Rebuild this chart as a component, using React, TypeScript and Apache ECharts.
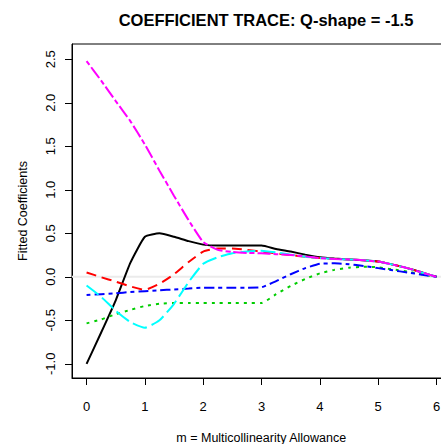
import React, { useEffect, useRef } from "react";
import * as echarts from "echarts";

const mValues = [0, 0.25, 0.5, 0.75, 1, 1.25, 1.5, 1.75, 2, 2.25, 2.5, 2.75, 3, 3.25, 3.5, 3.75, 4, 4.25, 4.5, 4.75, 5, 5.25, 5.5, 5.75, 6];

const coefBlack = [-1.0, -0.64, -0.27, 0.16, 0.46, 0.5, 0.46, 0.41, 0.37, 0.36, 0.36, 0.36, 0.36, 0.32, 0.29, 0.255, 0.225, 0.21, 0.2, 0.19, 0.175, 0.14, 0.1, 0.05, 0.0];
const coefRed = [0.05, -0.005, -0.055, -0.11, -0.15, -0.08, 0.03, 0.17, 0.29, 0.325, 0.325, 0.31, 0.29, 0.27, 0.25, 0.23, 0.215, 0.205, 0.2, 0.19, 0.175, 0.14, 0.1, 0.05, 0.0];
const coefGreen = [-0.535, -0.49, -0.43, -0.38, -0.335, -0.31, -0.3, -0.3, -0.3, -0.3, -0.3, -0.3, -0.3, -0.2, -0.105, -0.025, 0.04, 0.08, 0.105, 0.115, 0.11, 0.085, 0.06, 0.03, 0.0];
const coefBlue = [-0.21, -0.2, -0.19, -0.175, -0.165, -0.155, -0.145, -0.135, -0.125, -0.125, -0.125, -0.125, -0.12, -0.05, 0.03, 0.1, 0.15, 0.155, 0.145, 0.125, 0.1, 0.075, 0.05, 0.025, 0.0];
const coefCyan = [-0.1, -0.23, -0.39, -0.52, -0.585, -0.5, -0.31, -0.06, 0.15, 0.225, 0.27, 0.29, 0.3, 0.28, 0.255, 0.23, 0.215, 0.205, 0.2, 0.19, 0.175, 0.14, 0.1, 0.05, 0.0];
const coefMagenta = [2.48, 2.255, 2.02, 1.79, 1.52, 1.22, 0.93, 0.65, 0.4, 0.31, 0.285, 0.275, 0.27, 0.26, 0.25, 0.235, 0.215, 0.205, 0.2, 0.19, 0.175, 0.14, 0.1, 0.05, 0.0];

const xTicks = [0, 1, 2, 3, 4, 5, 6];
const yTicks = [-1.0, -0.5, 0.0, 0.5, 1.0, 1.5, 2.0, 2.5];

const titleText = "COEFFICIENT TRACE: Q-shape = -1.5";
const xTitle = "m = Multicollinearity Allowance";
const yTitle = "Fitted Coefficients";

const FONT = "Liberation Sans, Arial, Helvetica, sans-serif";

export default function App() {
  const ref = useRef<HTMLDivElement>(null);
  useEffect(() => {
    if (!ref.current) return;
    const chart = echarts.init(ref.current, undefined, { renderer: "svg" });
    const mk = (vals: number[], color: string, dash: any, name: string) => ({
      type: "line",
      name,
      data: mValues.map((m, i) => [m, vals[i]]),
      showSymbol: false,
      symbol: "none",
      smooth: 0.15,
      lineStyle: { color, width: 2, type: dash, cap: "butt" },
      z: 3,
    });
    chart.setOption({
      animation: false,
      backgroundColor: "#ffffff",
      title: {
        text: titleText,
        left: 261,
        top: 6,
        textAlign: "center",
        textStyle: { fontFamily: FONT, fontSize: 16.5, fontWeight: "bold", color: "#000" },
      },
      grid: {
        left: 72,
        top: 44,
        width: 378.5,
        height: 334,
        show: true,
        borderColor: "#000",
        borderWidth: 1,
        backgroundColor: "transparent",
        outerBoundsMode: "none",
        containLabel: false,
      },
      xAxis: {
        type: "value",
        min: -0.25,
        max: 6.24,
        name: xTitle,
        nameLocation: "middle",
        nameGap: 53,
        nameTextStyle: { fontFamily: FONT, fontSize: 12.5, color: "#000" },
        axisLine: { show: true, onZero: false, lineStyle: { color: "#000", width: 1 } },
        axisTick: { show: true, inside: false, length: 7, customValues: xTicks, lineStyle: { color: "#000" } },
        axisLabel: {
          customValues: xTicks,
          margin: 22,
          fontFamily: FONT,
          fontSize: 13,
          color: "#000",
          formatter: (v: number) => String(v),
        },
        splitLine: { show: false },
      },
      yAxis: {
        type: "value",
        min: -1.163,
        max: 2.676,
        name: yTitle,
        nameLocation: "middle",
        nameGap: 43,
        nameTextStyle: { fontFamily: FONT, fontSize: 12.5, color: "#000" },
        axisLine: { show: true, onZero: false, lineStyle: { color: "#000", width: 1 } },
        axisTick: { show: true, inside: false, length: 7, customValues: yTicks, lineStyle: { color: "#000" } },
        axisLabel: {
          customValues: yTicks,
          rotate: 90,
          margin: 15,
          fontFamily: FONT,
          fontSize: 13,
          color: "#000",
          formatter: (v: number) => v.toFixed(1),
        },
        splitLine: { show: false },
      },
      series: [
        {
          type: "line",
          name: "zero",
          data: [[-0.25, 0], [6.24, 0]],
          showSymbol: false,
          symbol: "none",
          lineStyle: { color: "#ebebeb", width: 2 },
          z: 1,
          silent: true,
        },
        mk(coefBlack, "#000000", "solid", "b1"),
        mk(coefRed, "#ff0000", [10, 6], "b2"),
        mk(coefGreen, "#00cd00", [3, 5], "b3"),
        mk(coefBlue, "#0000ff", [4, 4, 10, 4], "b4"),
        mk(coefCyan, "#00ffff", [15, 5], "b5"),
        mk(coefMagenta, "#ff00ff", [5, 3, 13, 3], "b6"),
      ],
    });
    return () => chart.dispose();
  }, []);
  return (
    <div
      ref={ref}
      style={{ position: "fixed", left: 0, top: 0, width: 441, height: 444, background: "#fff" }}
    />
  );
}
